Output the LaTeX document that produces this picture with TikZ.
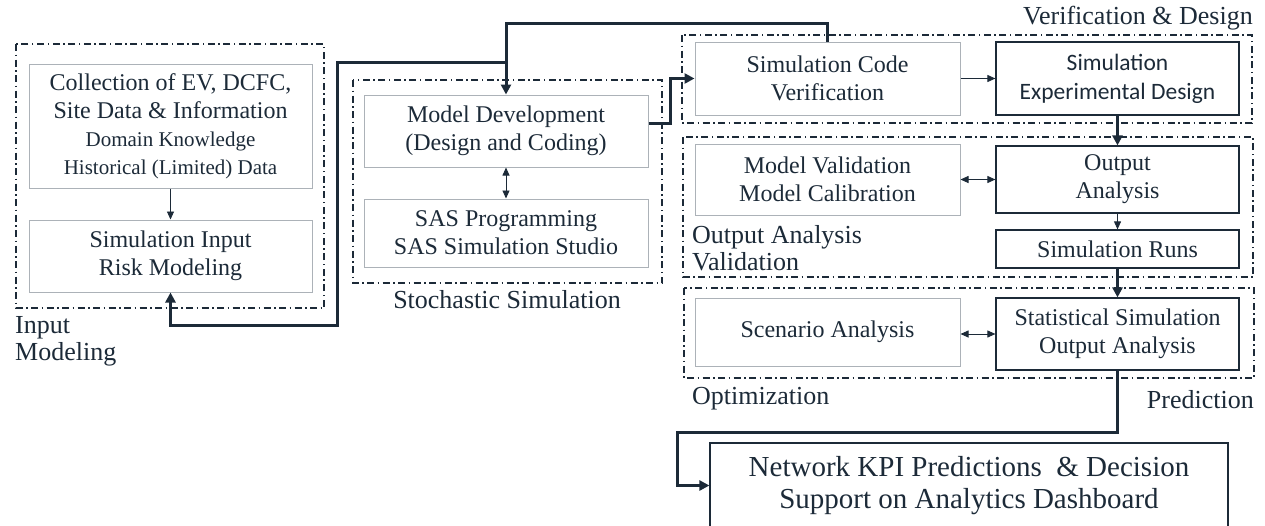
\documentclass[tikz,border=0pt]{standalone}
\usepackage{fontspec}
\setmainfont{Liberation Serif}
\newfontfamily\calibrifont{Carlito}
\usetikzlibrary{arrows.meta,calc}
\definecolor{ink}{RGB}{28,42,56}
\definecolor{boxgray}{RGB}{172,178,184}
\tikzset{
  box/.style={draw=boxgray, line width=1pt, inner sep=0pt, align=center, text=ink,
    font=\fontsize{24}{28}\selectfont},
  darkbox/.style={box, draw=ink, line width=1.2pt},
  group/.style={draw=ink, line width=1.4pt, dash pattern=on 7pt off 3.5pt on 1.5pt off 3.5pt},
  grouplabel/.style={text=ink, font=\fontsize{26}{27}\selectfont, inner sep=0pt, align=left},
  thinarrow/.style={draw=ink, line width=0.9pt, -{Triangle[length=8pt,width=7pt]}},
  thinboth/.style={draw=ink, line width=0.9pt, {Triangle[length=8pt,width=7pt]}-{Triangle[length=8pt,width=7pt]}},
  flow/.style={draw=ink, line width=3pt, -{Triangle[length=10pt,width=10pt]}},
}
\begin{document}
\begin{tikzpicture}[x=1pt, y=-1pt]
\useasboundingbox (0,0) rectangle (1265,525);
\clip (0,0) rectangle (1265,525);

% group frames
\draw[group] (16,44) rectangle (324,308);
\draw[group] (353,80) rectangle (662,283);
\draw[group] (682,35) rectangle (1252,123);
\draw[group] (683,137) rectangle (1253,277);
\draw[group] (684,288) rectangle (1254,378);

% group labels
\node[grouplabel, anchor=west] (lblin) at (15,341.5) {Input\\Modeling};
\node[grouplabel] (lblst) at (507,300) {Stochastic Simulation};
\node[grouplabel, anchor=east] (lblvd) at (1253,18) {Verification \& Design};
\node[grouplabel, anchor=west] (lbloa) at (692,248.5) {Output Analysis\\Validation};
\node[grouplabel, anchor=west] (lblop) at (692,399) {Optimization};
\node[grouplabel, anchor=east] (lblpr) at (1254,400) {Prediction};

% input modeling
\node[box, minimum width=283pt, minimum height=124pt] (in1) at (170.5,126)
  {Collection of EV, DCFC,\\Site Data \& Information\\
   \fontsize{21}{26}\selectfont Domain Knowledge\\
   \fontsize{21}{26}\selectfont Historical (Limited) Data};
\node[box, minimum width=283pt, minimum height=72pt] (in2) at (170.5,256)
  {Simulation Input\\Risk Modeling};

% stochastic simulation
\node[box, minimum width=284pt, minimum height=72pt] (md) at (506,131)
  {Model Development\\(Design and Coding)};
\node[box, minimum width=284pt, minimum height=68pt] (sas) at (506,233)
  {SAS Programming\\SAS Simulation Studio};

% verification and design
\node[box, minimum width=265pt, minimum height=73pt] (scv) at (827.5,78.5)
  {Simulation Code\\Verification};
\node[darkbox, minimum width=243pt, minimum height=73pt, font=\calibrifont\fontsize{23.5}{29}\selectfont] (sed) at (1117.5,78.5)
  {Simulation\\Experimental Design};

% output analysis and validation
\node[box, minimum width=265pt, minimum height=71pt] (mv) at (827.5,179.5)
  {Model Validation\\Model Calibration};
\node[darkbox, minimum width=243pt, minimum height=67pt] (oa) at (1117.5,179.5)
  {Output\\Analysis};
\node[darkbox, minimum width=243pt, minimum height=38pt] (sr) at (1117.5,249)
  {Simulation Runs};

% optimization and prediction
\node[box, minimum width=265pt, minimum height=68pt] (sa) at (827.5,332)
  {Scenario Analysis};
\node[darkbox, minimum width=243pt, minimum height=72pt] (ss) at (1117.5,334)
  {Statistical Simulation\\Output Analysis};

% dashboard
\node[darkbox, minimum width=518pt, minimum height=85pt, font=\fontsize{29}{32}\selectfont] (kpi) at (969,485.5)
  {Network KPI Predictions \ \& Decision\\Support on Analytics Dashboard};

% thin connectors
\draw[thinarrow] (in1.south) -- (in2.north);
\draw[thinboth] (md.south) -- (sas.north);
\draw[thinarrow] (scv.east) -- (sed.west);
\draw[thinboth] (mv.east) -- (oa.west);
\draw[thinarrow] (oa.south) -- (sr.north);
\draw[thinboth] (sa.east |- ss.west) -- (ss.west);

% main flow
\draw[flow] (sed.south) -- (oa.north);
\draw[flow] (sr.south) -- (ss.north);
\coordinate (mdout) at ([yshift=8pt]md.east);
\coordinate (mdbend) at (670,123);
\draw[flow] (mdout) -- (mdbend) |- (scv.west);

% feedback from verification
\coordinate (fbtop) at (md.north |- 0,23);
\coordinate (fbsplit) at (md.north |- 0,62);
\coordinate (fbbend) at (337,325);
\draw[flow] (scv.north) |- (fbtop) -- (md.north);
\draw[flow] (fbsplit) -| (fbbend) -| (in2.south);

% prediction to dashboard
\coordinate (kpibend) at (677,432);
\draw[flow] (ss.south) |- (kpibend) |- (kpi.west);
\end{tikzpicture}
\end{document}
